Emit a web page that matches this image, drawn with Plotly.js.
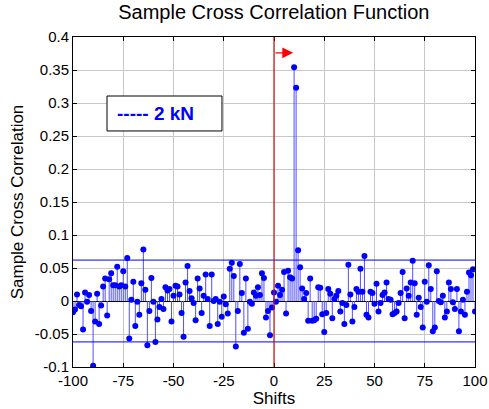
<!DOCTYPE html>
<html>
<head>
<meta charset="utf-8">
<script src="https://cdn.plot.ly/plotly-3.0.1.min.js"></script>
<style>html,body{margin:0;padding:0;background:#fff;}#chart{width:489px;height:409px;}</style>
</head>
<body>
<div id="chart"></div>
<script>
// Data
var firstLag = -100;
var xcfValues = [
  -0.017,-0.013,0.010,-0.006,-0.008,-0.043,0.013,-0.001,0.009,-0.015,
  -0.098,-0.031,0.011,-0.035,-0.007,0.022,0.034,-0.022,0.033,0.042,
  0.024,0.024,0.052,0.022,0.024,0.045,0.022,0.065,-0.057,0.002,
  0.029,-0.038,-0.001,-0.021,0.027,0.078,0.017,-0.067,-0.015,0.035,
  -0.001,-0.062,-0.028,-0.009,0.003,-0.012,0.021,0.016,0.018,-0.031,
  0.008,0.023,0.022,0.010,-0.018,-0.054,0.028,0.053,0.015,0.004,
  -0.003,-0.029,0.034,0.019,-0.018,0.008,0.040,0.003,-0.038,0.040,
  0.000,0.003,-0.035,-0.001,-0.024,0.007,-0.005,-0.019,0.049,0.058,
  0.038,-0.069,-0.015,0.056,0.012,-0.048,0.034,-0.042,-0.001,-0.004,
  0.013,0.008,0.021,0.009,0.042,0.035,-0.025,-0.015,-0.052,-0.010,
  0.013,-0.001,0.023,0.009,0.017,0.044,-0.019,0.046,0.036,0.034,
  0.354,0.323,0.077,0.051,0.019,0.003,0.012,-0.030,0.034,-0.030,
  -0.029,-0.027,0.021,0.020,-0.020,-0.047,-0.018,0.018,0.011,-0.026,
  0.003,0.008,0.015,-0.016,-0.003,-0.035,-0.006,0.055,0.010,-0.031,
  -0.009,0.018,0.014,0.049,0.014,0.068,-0.021,-0.025,0.014,0.012,
  -0.004,0.026,-0.016,-0.003,0.009,0.013,0.028,0.003,0.002,-0.020,
  -0.018,-0.016,-0.003,0.012,0.044,-0.026,0.019,0.008,0.028,0.061,
  0.027,-0.021,0.005,-0.009,-0.040,0.029,-0.001,0.054,0.018,-0.046,
  -0.040,0.045,0.000,-0.002,0.008,-0.025,-0.016,0.028,0.018,-0.002,
  -0.012,0.018,-0.046,-0.016,0.002,-0.021,0.014,0.043,0.039,0.048,
  -0.016
];
var confBound = 0.062;
var xTickVals = [-100,-75,-50,-25,0,25,50,75,100];
var xTickText = ['-100','-75','-50','-25','0','25','50','75','100'];
var yTickVals = [-0.1,-0.05,0,0.05,0.1,0.15,0.2,0.25,0.3,0.35,0.4];
var yTickText = ['-0.1','-0.05','0','0.05','0.1','0.15','0.2','0.25','0.3','0.35','0.4'];
var legendLabel = '----- 2 kN';
var arrowFromLag = 0, arrowToLag = 9.5, arrowLevel = 0.376;

var lags = xcfValues.map(function(v, i){ return firstLag + i; });
var stemX = [], stemY = [];
lags.forEach(function(l, i){ stemX.push(l, l, null); stemY.push(0, xcfValues[i], null); });

var font = 'Arial, "Liberation Sans", sans-serif';
var traces = [
  {x: stemX, y: stemY, type: 'scatter', mode: 'lines', line: {color: '#4f4fff', width: 1}, hoverinfo: 'skip', showlegend: false},
  {x: lags, y: xcfValues, type: 'scatter', mode: 'markers', marker: {color: '#0000ff', size: 6}, showlegend: false}
];

var layout = {
  width: 489, height: 409,
  margin: {l: 73, r: 14, t: 37, b: 42},
  paper_bgcolor: '#fff', plot_bgcolor: '#fff',
  showlegend: false,
  title: {text: 'Sample Cross Correlation Function', font: {family: font, size: 20, color: '#000'}, x: 0.56, xanchor: 'center', y: 0.988, yanchor: 'top'},
  xaxis: {
    range: [-100, 100], tickvals: xTickVals, ticktext: xTickText,
    ticks: 'inside', ticklen: 4, tickcolor: '#000', mirror: 'ticks',
    showline: true, linecolor: '#000', linewidth: 1,
    showgrid: true, gridcolor: '#c8c8c8', gridwidth: 1, zeroline: false,
    tickfont: {family: font, size: 15, color: '#000'},
    title: {text: 'Shifts', font: {family: font, size: 17, color: '#000'}, standoff: 3}
  },
  yaxis: {
    range: [-0.1, 0.4], tickvals: yTickVals, ticktext: yTickText,
    ticks: 'inside', ticklen: 4, tickcolor: '#000', mirror: 'ticks',
    showline: true, linecolor: '#000', linewidth: 1,
    showgrid: true, gridcolor: '#c8c8c8', gridwidth: 1,
    zeroline: true, zerolinecolor: '#000', zerolinewidth: 1,
    tickfont: {family: font, size: 15, color: '#000'},
    title: {text: 'Sample Cross Correlation', font: {family: font, size: 17, color: '#000'}, standoff: 6}
  },
  shapes: [
    {type: 'line', xref: 'paper', yref: 'y', x0: 0, x1: 1, y0: confBound, y1: confBound, line: {color: '#0000ff', width: 1}},
    {type: 'line', xref: 'paper', yref: 'y', x0: 0, x1: 1, y0: -confBound, y1: -confBound, line: {color: '#0000ff', width: 1}},
    {type: 'line', xref: 'x', yref: 'paper', x0: 0, x1: 0, y0: 0, y1: 1, line: {color: '#cc1111', width: 1.2}},
    {type: 'rect', xref: 'paper', yref: 'paper', x0: 0.0846, x1: 0.3706, y0: 0.7152, y1: 0.8212, line: {color: '#000', width: 1}, fillcolor: '#fff'}
  ],
  annotations: [
    {x: arrowToLag, y: arrowLevel, ax: arrowFromLag, ay: arrowLevel, xref: 'x', yref: 'y', axref: 'x', ayref: 'y',
     text: '', showarrow: true, arrowcolor: '#ff0000', arrowhead: 2, arrowsize: 1.8, arrowwidth: 1.2},
    {x: 0.204, y: 0.768, xref: 'paper', yref: 'paper', xanchor: 'center', yanchor: 'middle', showarrow: false,
     text: '<b>' + legendLabel + '</b>', font: {family: font, size: 19, color: '#0000ff'}}
  ]
};

Plotly.newPlot('chart', traces, layout, {displayModeBar: false, staticPlot: true});
</script>
</body>
</html>
